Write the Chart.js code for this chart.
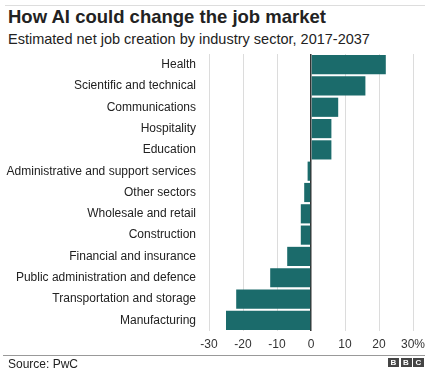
<!DOCTYPE html>
<html>
<head>
<meta charset="utf-8">
<script src="https://cdn.jsdelivr.net/npm/chart.js@4"></script>
<style>
  body { margin: 0; background: #fff; font-family: "Liberation Sans", Arial, sans-serif; }
  #wrap { position: relative; width: 434px; height: 380px; overflow: hidden; }
  #topline { position: absolute; left: 5px; top: 5px; width: 420px; height: 1px; background: #ddd; }
  #title { position: absolute; left: 8px; top: 6px; font-size: 18.5px; font-weight: bold; color: #222; white-space: nowrap; }
  #subtitle { position: absolute; left: 8px; top: 31px; font-size: 14.5px; color: #222; white-space: nowrap; }
  #chart { position: absolute; left: 0; top: 0; }
  #footline { position: absolute; left: 3px; top: 355px; width: 422px; height: 1px; background: #999; }
  #source { position: absolute; left: 8px; top: 357px; font-size: 12px; color: #222; }
  #bbc { position: absolute; left: 388px; top: 358px; display: flex; gap: 1.5px; }
  #bbc span { display: block; width: 11px; height: 9px; background: #444; color: #fff; font-size: 8px; font-weight: bold; line-height: 9px; text-align: center; }
</style>
</head>
<body>
<div id="wrap">
  <div id="topline"></div>
  <div id="title">How AI could change the job market</div>
  <div id="subtitle">Estimated net job creation by industry sector, 2017-2037</div>
  <canvas id="chart" width="434" height="380"></canvas>
  <div id="footline"></div>
  <div id="source">Source: PwC</div>
  <div id="bbc"><span>B</span><span>B</span><span>C</span></div>
</div>
<script>
const sectors = [
    'Health',
    'Scientific and technical',
    'Communications',
    'Hospitality',
    'Education',
    'Administrative and support services',
    'Other sectors',
    'Wholesale and retail',
    'Construction',
    'Financial and insurance',
    'Public administration and defence',
    'Transportation and storage',
    'Manufacturing',
];
const netJobs = [22, 16, 8, 6, 6, -1, -2, -3, -3, -7, -12, -22, -25];
const xTicks = [-30, -20, -10, 0, 10, 20, 30];

const chartEl = document.getElementById('chart');

new Chart(chartEl, {
    type: 'bar',
    data: {
        labels: sectors,
        datasets: [{
            data: netJobs,
            backgroundColor: '#1b6b6b',
            barPercentage: 0.9,
            categoryPercentage: 1,
        }],
    },
    options: {
        indexAxis: 'y',
        responsive: false,
        animation: false,
        layout: {
            padding: { top: 54, bottom: 29, right: 21, left: 0 },
        },
        plugins: {
            legend: { display: false },
            tooltip: { enabled: false },
        },
        scales: {
            x: {
                min: -30,
                max: 30,
                afterBuildTicks: (scale) => {
                    scale.ticks = xTicks.map((v) => ({ value: v }));
                },
                afterFit: (scale) => {
                    scale.height = 20;
                },
                grid: {
                    color: (ctx) => ctx.tick && ctx.tick.value === 0 ? '#333' : '#dcdcdc',
                    lineWidth: (ctx) => ctx.tick && ctx.tick.value === 0 ? 1.5 : 1,
                    drawTicks: false,
                },
                border: { display: false },
                ticks: {
                    padding: 6,
                    color: '#333',
                    font: { family: 'Liberation Sans', size: 12 },
                    callback: (v) => v === 30 ? '30%' : v,
                },
            },
            y: {
                afterFit: (scale) => {
                    scale.width = 209;
                },
                grid: { display: false, drawTicks: false },
                border: { display: false },
                ticks: {
                    padding: 13,
                    color: '#222',
                    font: { family: 'Liberation Sans', size: 12 },
                },
            },
        },
    },
});
</script>
</body>
</html>
